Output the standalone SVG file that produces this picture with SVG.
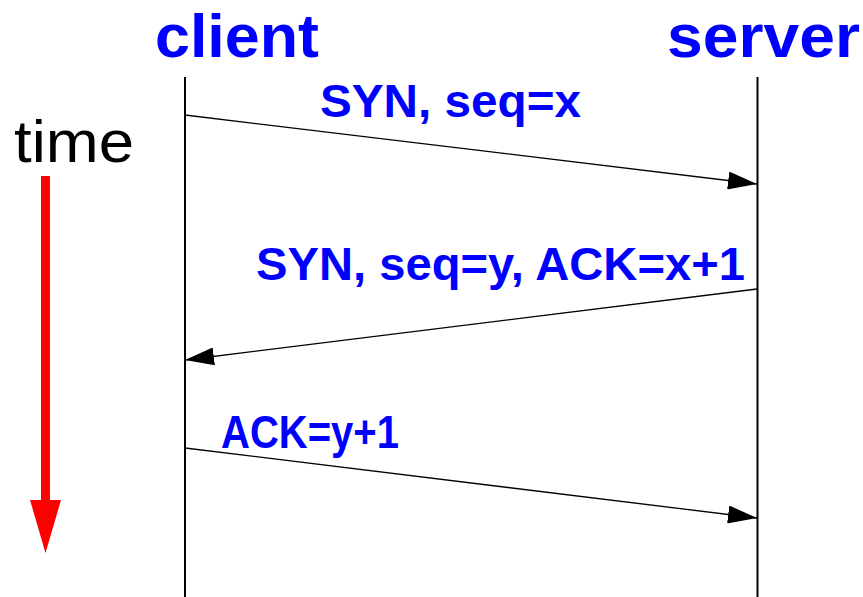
<svg xmlns="http://www.w3.org/2000/svg" width="863" height="597" viewBox="0 0 863 597">
<style>
.head{font-family:"Liberation Sans",Arial,sans-serif;font-weight:bold;fill:#0000ff;font-size:62px}
.lbl{font-family:"Liberation Sans",Arial,sans-serif;font-weight:bold;fill:#0000ff;font-size:46px}
.life{stroke:#000;stroke-width:2;fill:none}
.msg{stroke:#000;stroke-width:1.3;fill:none}
</style>
<defs>
<marker id="ah" markerUnits="userSpaceOnUse" markerWidth="30" markerHeight="18" viewBox="0 0 30 18" refX="29" refY="9" orient="auto">
<path d="M0,0 L29,9 L0,18 Z" fill="#000"/>
</marker>
</defs>
<rect width="863" height="597" fill="#fff"/>
<g id="client">
<text class="head" x="155" y="57" textLength="164" lengthAdjust="spacingAndGlyphs">client</text>
<line class="life" x1="185" y1="77" x2="185" y2="597"/>
</g>
<g id="server">
<text class="head" x="667" y="57" textLength="193" lengthAdjust="spacingAndGlyphs">server</text>
<line class="life" x1="757.5" y1="77" x2="757.5" y2="597"/>
</g>
<g id="time">
<text x="14" y="162" font-family="'Liberation Sans',Arial,sans-serif" font-size="60" fill="#000" textLength="120" lengthAdjust="spacingAndGlyphs">time</text>
<rect x="41" y="176" width="9" height="326" fill="#ff0000"/>
<polygon points="30,500 61,500 45.5,553" fill="#ff0000"/>
</g>
<g id="connectors">
<line class="msg" x1="185" y1="115" x2="757" y2="184" marker-end="url(#ah)"/>
<line class="msg" x1="757" y1="289" x2="185" y2="360" marker-end="url(#ah)"/>
<line class="msg" x1="185" y1="448" x2="757" y2="518" marker-end="url(#ah)"/>
</g>
<g id="labels">
<text class="lbl" x="320" y="117" textLength="261" lengthAdjust="spacingAndGlyphs">SYN, seq=x</text>
<text class="lbl" x="256" y="280" textLength="489" lengthAdjust="spacingAndGlyphs">SYN, seq=y, ACK=x+1</text>
<text class="lbl" x="221" y="448" textLength="178" lengthAdjust="spacingAndGlyphs">ACK=y+1</text>
</g>
</svg>
